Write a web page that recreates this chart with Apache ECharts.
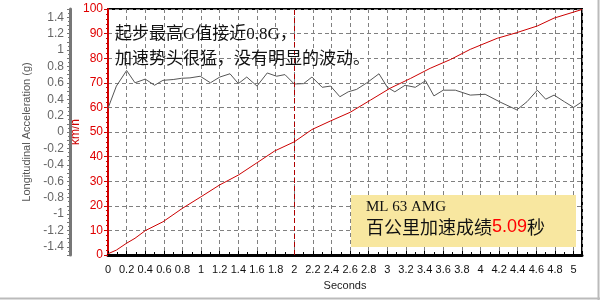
<!DOCTYPE html>
<html><head><meta charset="utf-8">
<script src="https://cdn.jsdelivr.net/npm/echarts@6/dist/echarts.min.js"></script>
<style>html,body{margin:0;padding:0;background:#fff}#c{width:600px;height:300px}</style>
</head><body><div id="c"></div>
<script>
const speedTime = [0, 0.09, 0.2, 0.29, 0.4, 0.59, 0.8, 1.0, 1.2, 1.4, 1.6, 1.79, 2.0, 2.19, 2.39, 2.6, 2.82, 3.03, 3.25, 3.46, 3.68, 3.89, 4.18, 4.39, 4.61, 4.79, 5.09];
const speedKmh  = [0.5, 2, 4.8, 6.8, 9.9, 13.5, 19, 23.7, 28.5, 32.5, 37.5, 42.3, 46, 51, 54.5, 58, 63, 67.8, 71.8, 75.9, 79.5, 83.6, 88.1, 90.4, 93.1, 96.3, 99.8];
const accelTime = [0,0.09,0.2,0.29,0.4,0.5,0.59,0.7,0.79,0.88,0.99,1.1,1.2,1.31,1.4,1.49,1.6,1.71,1.81,1.9,2.0,2.1,2.19,2.3,2.39,2.49,2.58,2.67,2.78,2.91,3.0,3.08,3.19,3.3,3.41,3.5,3.6,3.73,3.89,4.05,4.22,4.39,4.5,4.61,4.7,4.79,4.9,5.0,5.09];
const accelG    = [0.29,0.56,0.75,0.60,0.645,0.57,0.63,0.64,0.655,0.66,0.68,0.60,0.67,0.71,0.59,0.67,0.56,0.72,0.68,0.70,0.585,0.59,0.67,0.545,0.56,0.43,0.49,0.52,0.60,0.71,0.545,0.49,0.57,0.545,0.625,0.44,0.51,0.51,0.45,0.46,0.36,0.27,0.37,0.51,0.40,0.45,0.37,0.30,0.37];
const markTime = 2;
const noteLine1 = '起步最高G值接近0.8G，';
const noteLine2 = '加速势头很猛，没有明显的波动。';
const boxLine1 = 'ML 63 AMG';
const boxPrefix = '百公里加速成绩';
const boxValue = '5.09';
const boxSuffix = '秒';

function fmtStep(v, step, limit) {
  const k = v / step;
  if (Math.abs(k - Math.round(k)) > 1e-6) return '';
  if (limit !== undefined && Math.abs(v) > limit + 1e-9) return '';
  return String(Math.round(v * 10) / 10);
}

const chart = echarts.init(document.getElementById('c'), null, {renderer: 'canvas'});
chart.setOption({
  animation: false,
  grid: {left: 108, right: 18, top: 9, bottom: 45, show: true, borderColor: '#000', borderWidth: 2, backgroundColor: 'transparent'},
  xAxis: {
    type: 'value', min: 0, max: 5.09, interval: 0.2,
    name: 'Seconds', nameLocation: 'middle', nameGap: 25,
    nameTextStyle: {color: '#222', fontSize: 11, fontFamily: 'Liberation Sans'},
    axisLine: {lineStyle: {color: '#000', width: 3}},
    axisTick: {show: true, inside: true, length: 4, lineStyle: {color: '#000'}},
    minorTick: {show: true, splitNumber: 2, length: 3, lineStyle: {color: '#000'}},
    axisLabel: {color: '#111', fontSize: 11, fontFamily: 'Liberation Sans', margin: 9,
      formatter: v => fmtStep(v, 0.2)},
    splitLine: {show: true, lineStyle: {color: '#808080', type: [4, 3], width: 1}}
  },
  yAxis: [{
    type: 'value', min: 0, max: 100, interval: 10, position: 'left',
    name: 'km/h', nameLocation: 'middle', nameGap: 26, nameRotate: 90, nameMoveOverlap: false,
    nameTextStyle: {color: '#cc0000', fontSize: 12, fontFamily: 'Liberation Sans'},
    axisLine: {show: true, lineStyle: {color: '#d00000', width: 2}},
    axisTick: {show: true, length: 4, lineStyle: {color: '#d00000'}},
    minorTick: {show: true, splitNumber: 5, length: 2, lineStyle: {color: '#d00000'}},
    axisLabel: {color: '#e00000', fontSize: 12, fontFamily: 'Liberation Sans', margin: 5},
    splitLine: {show: true, lineStyle: {color: '#808080', type: [4, 3], width: 1}}
  }, {
    type: 'value', min: -1.5, max: 1.5, interval: 0.1, position: 'left', offset: 38,
    name: 'Longitudinal Acceleration (g)', nameLocation: 'middle', nameGap: 36, nameRotate: 90,
    nameTextStyle: {color: '#555', fontSize: 11, fontFamily: 'Liberation Sans'},
    axisLine: {show: true, lineStyle: {color: '#777', width: 3}},
    axisTick: {show: true, length: 3, lineStyle: {color: '#777'}},
    minorTick: {show: true, splitNumber: 2, length: 2, lineStyle: {color: '#777'}},
    axisLabel: {color: '#666', fontSize: 12, fontFamily: 'Liberation Sans', margin: 6,
      formatter: v => fmtStep(v, 0.2, 1.4)},
    splitLine: {show: false}
  }],
  series: [{
    type: 'line', yAxisIndex: 0, symbol: 'none', z: 3,
    data: speedTime.map((t, i) => [t, speedKmh[i]]),
    lineStyle: {color: '#cc0000', width: 1},
    markLine: {silent: true, symbol: 'none', label: {show: false},
      lineStyle: {color: '#b00000', type: [5, 3], width: 1},
      data: [{xAxis: markTime}]}
  }, {
    type: 'line', yAxisIndex: 1, symbol: 'none', z: 2,
    data: accelTime.map((t, i) => [t, accelG[i]]),
    lineStyle: {color: '#555', width: 1}
  }],
  graphic: [
    {type: 'text', left: 115, top: 26, z: 10, style: {text: noteLine1, fill: '#111', font: '17px "Liberation Serif", "Noto Sans CJK SC"'}},
    {type: 'text', left: 115, top: 51, z: 10, style: {text: noteLine2, fill: '#111', font: '17px "Liberation Serif", "Noto Sans CJK SC"'}},
    {type: 'rect', left: 351, top: 195, z: 10, shape: {width: 225, height: 52}, style: {fill: '#f8e7a0'}},
    {type: 'text', left: 366, top: 200, z: 11, style: {text: boxLine1, fill: '#111', font: '15px "Liberation Serif"'}},
    {type: 'text', left: 366, top: 218, z: 11, style: {
      text: '{a|' + boxPrefix + '}{b|' + boxValue + '}{a|' + boxSuffix + '}',
      rich: {
        a: {fill: '#111', fontSize: 18, fontFamily: 'Noto Sans CJK SC'},
        b: {fill: '#ff0000', fontSize: 18, fontFamily: 'Liberation Sans'}
      }}},
    {type: 'line', z: 10, shape: {x1: 0, y1: 298.5, x2: 600, y2: 298.5}, style: {stroke: '#bbb', lineWidth: 2}},
    {type: 'line', z: 10, shape: {x1: 598.5, y1: 0, x2: 598.5, y2: 300}, style: {stroke: '#bbb', lineWidth: 2}}
  ]
});
</script></body></html>
